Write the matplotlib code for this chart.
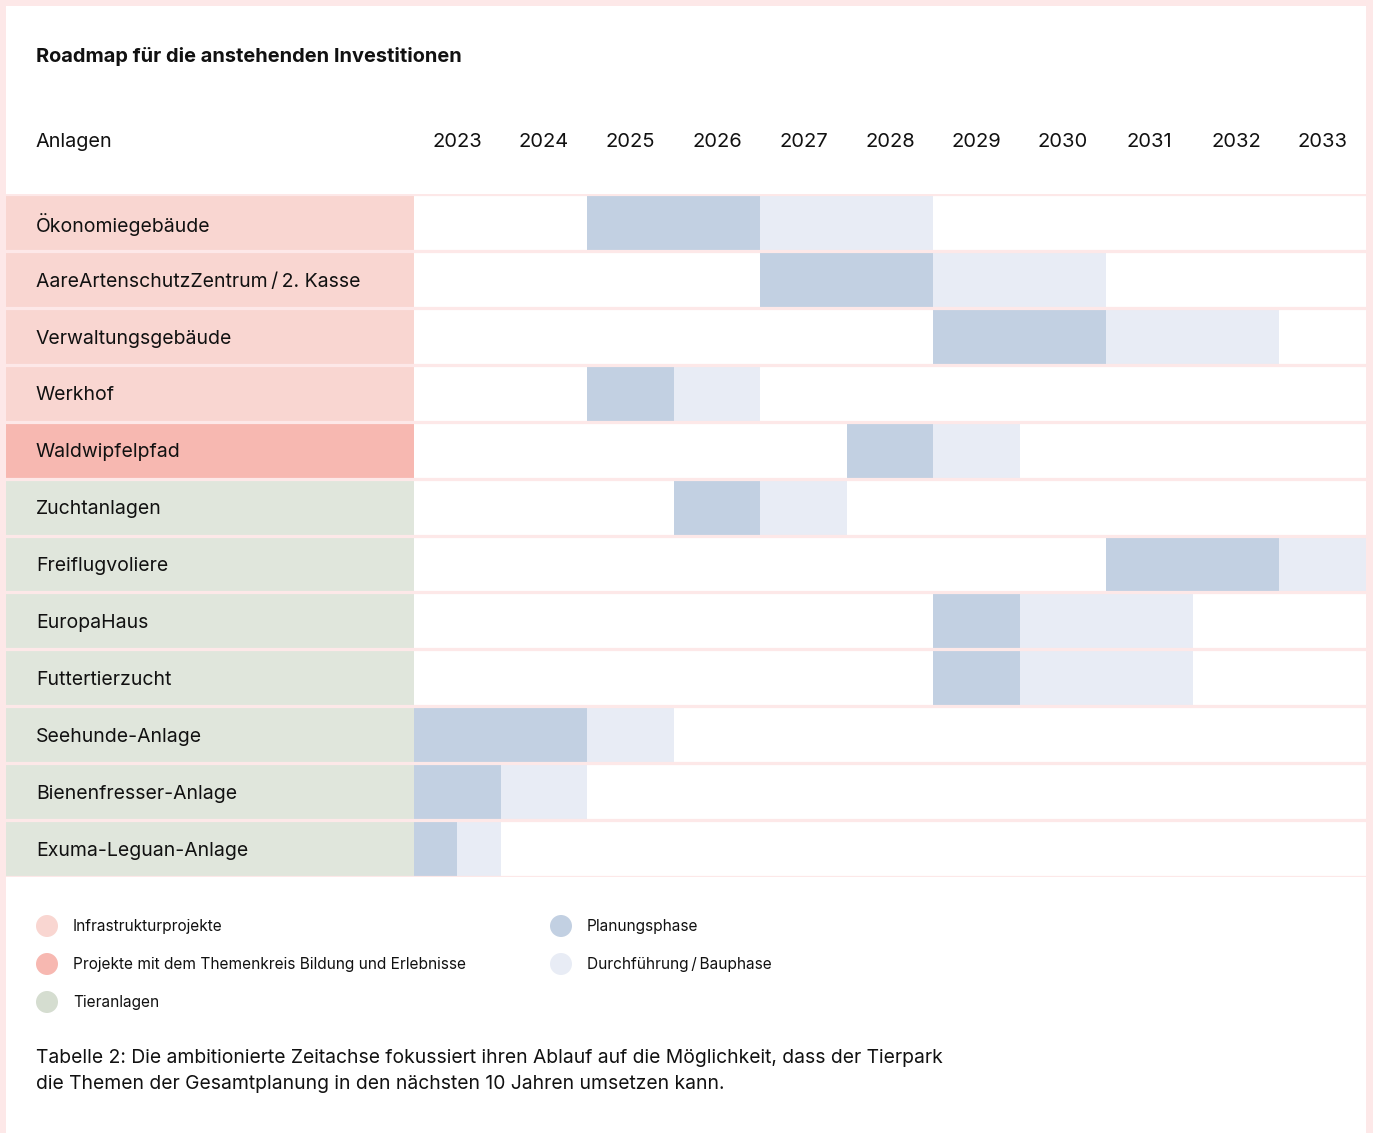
import matplotlib
matplotlib.use("Agg")
import matplotlib.pyplot as plt
from matplotlib.patches import Rectangle, Ellipse
from matplotlib.transforms import blended_transform_factory

plt.rcParams['font.family'] = ['Inter', 'DejaVu Sans']

# ---- data ----
title = "Roadmap für die anstehenden Investitionen"
header_label = "Anlagen"
years = [2023, 2024, 2025, 2026, 2027, 2028, 2029, 2030, 2031, 2032, 2033]
projects = ["Ökonomiegebäude", "AareArtenschutzZentrum\u2009/\u20092. Kasse", "Verwaltungsgebäude",
            "Werkhof", "Waldwipfelpfad", "Zuchtanlagen", "Freiflugvoliere", "EuropaHaus",
            "Futtertierzucht", "Seehunde-Anlage", "Bienenfresser-Anlage", "Exuma-Leguan-Anlage"]
categories = ["infra", "infra", "infra", "infra", "bildung", "tier", "tier", "tier",
              "tier", "tier", "tier", "tier"]
plan_start = [2025, 2027, 2029, 2025, 2028, 2026, 2031, 2029, 2029, 2023, 2023, 2023]
plan_end   = [2027, 2029, 2031, 2026, 2029, 2027, 2033, 2030, 2030, 2025, 2024, 2023.5]
build_end  = [2029, 2031, 2033, 2027, 2030, 2028, 2034, 2032, 2032, 2026, 2025, 2024]
legend_left = ["Infrastrukturprojekte", "Projekte mit dem Themenkreis Bildung und Erlebnisse", "Tieranlagen"]
legend_right = ["Planungsphase", "Durchführung\u2009/\u2009Bauphase"]
caption = ("Tabelle 2: Die ambitionierte Zeitachse fokussiert ihren Ablauf auf die Möglichkeit, dass der Tierpark\n"
           "die Themen der Gesamtplanung in den nächsten 10 Jahren umsetzen kann.")

# ---- styles ----
cat_colors = {"infra": "#f9d6d1", "bildung": "#f7b8b1", "tier": "#e0e6dc"}
legend_cat_colors = ["#f9d6d1", "#f7b8b1", "#d5ddd0"]
plan_color = "#c2d0e2"
build_color = "#e8ecf5"
pink = "#fde8e8"
W, H = 1373, 1133

fig = plt.figure(figsize=(W / 100, H / 100), dpi=100)
fig.patch.set_facecolor(pink)
fig.patches.append(Rectangle((6 / W, 0), 1360 / W, 1 - 6 / H, transform=fig.transFigure,
                             facecolor="white", edgecolor="none", zorder=-10))

ax = fig.add_axes([6 / W, 1 - 877 / H, 1360 / W, 683 / H])
ax.set_zorder(5)
colw = (1366 - 414) / 11
x0 = 2023 - 408 / colw
ax.set_xlim(x0, 2034)
n = len(projects)
ax.set_ylim(n, 0)
ax.axis("off")

for i, p in enumerate(projects):
    ax.barh(i + 0.5, 2023 - x0, left=x0, height=1, color=cat_colors[categories[i]], linewidth=0)
    ax.barh(i + 0.5, plan_end[i] - plan_start[i], left=plan_start[i], height=1, color=plan_color, linewidth=0)
    ax.barh(i + 0.5, build_end[i] - plan_end[i], left=plan_end[i], height=1, color=build_color, linewidth=0)

for k in range(n + 1):
    ax.axhline(k, color=pink, linewidth=2.3, zorder=5)

tr = blended_transform_factory(ax.transAxes, ax.transData)
for i, p in enumerate(projects):
    ax.text(30 / 1360, i + 0.54, p, transform=tr, va="center", ha="left", fontsize=14, color="#111111")

hy = -(193 - 141) / (683 / n)
ax.text(30 / 1360, hy, header_label, transform=tr, va="center", ha="left", fontsize=14.3, color="#111111", clip_on=False)
for y in years:
    ax.text(y + 0.5, hy, str(y), va="center", ha="center", fontsize=14.5, color="#111111", clip_on=False)

fig.text(36 / W, 1 - 56 / H, title, fontsize=14.4, fontweight="bold", va="center", ha="left", color="#111111")

def legend_item(px, py, color, label):
    fig.patches.append(Ellipse((px / W, 1 - py / H), 22 / W, 22 / H, transform=fig.transFigure,
                               facecolor=color, edgecolor="none"))
    fig.text((px + 26) / W, 1 - (py + 1) / H, label, fontsize=11.1, va="center", ha="left", color="#111111")

for j, lab in enumerate(legend_left):
    legend_item(47, 926 + 38 * j, legend_cat_colors[j], lab)
for j, (lab, col) in enumerate(zip(legend_right, [plan_color, build_color])):
    legend_item(561, 926 + 38 * j, col, lab)

fig.text(36 / W, 1 - 1071 / H, caption, fontsize=13.9, va="center", ha="left", color="#111111", linespacing=1.62)

fig.savefig("out.png", dpi=100, facecolor=fig.get_facecolor())
